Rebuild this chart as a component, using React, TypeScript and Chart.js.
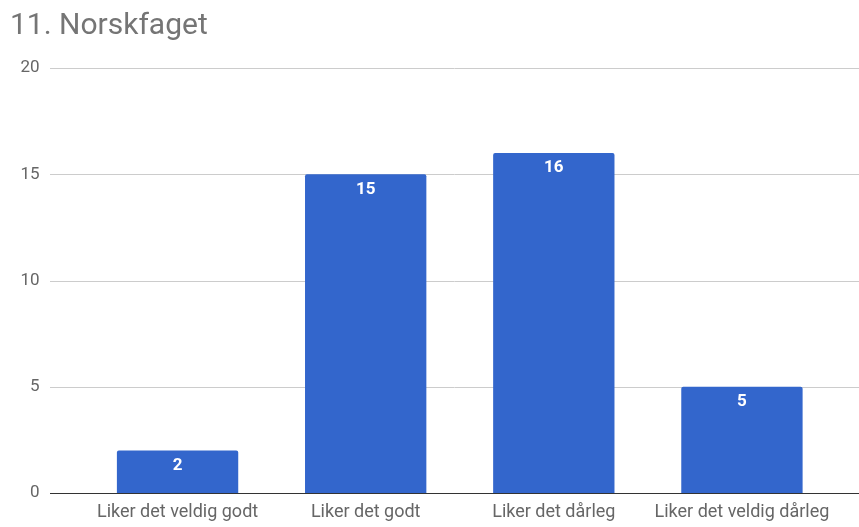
import React, { useEffect, useRef } from "react";
import { Chart, registerables } from "chart.js";

Chart.register(...registerables);

const categories = [
  "Liker det veldig godt",
  "Liker det godt",
  "Liker det dårleg",
  "Liker det veldig dårleg",
];
const values = [2, 15, 16, 5];
const titleText = "11. Norskfaget";
const yMin = 0;
const yMax = 20;
const yStep = 5;

const FONT = "Roboto, 'Noto Sans', Arial, sans-serif";

const gridPlugin = {
  id: "fullGrid",
  beforeDatasetsDraw(chart: any) {
    const { ctx, scales } = chart;
    const y = scales.y;
    ctx.save();
    ctx.lineWidth = 1;
    ctx.strokeStyle = "#cccccc";
    y.ticks.forEach((t: any) => {
      if (t.value === yMin) return;
      const py = Math.round(y.getPixelForValue(t.value)) + 0.5;
      ctx.beginPath();
      ctx.moveTo(50, py);
      ctx.lineTo(chart.width, py);
      ctx.stroke();
    });
    ctx.restore();
  },
  afterDatasetsDraw(chart: any) {
    const { ctx, scales } = chart;
    const y = scales.y;
    ctx.save();
    const py = Math.round(y.getPixelForValue(yMin)) + 0.5;
    ctx.strokeStyle = "#333333";
    ctx.lineWidth = 1.2;
    ctx.beginPath();
    ctx.moveTo(50, py);
    ctx.lineTo(chart.width, py);
    ctx.stroke();
    const meta = chart.getDatasetMeta(0);
    ctx.fillStyle = "#ffffff";
    ctx.font = `bold 17px ${FONT}`;
    ctx.textAlign = "center";
    ctx.textBaseline = "middle";
    meta.data.forEach((bar: any, i: number) => {
      const v = chart.data.datasets[0].data[i];
      ctx.fillText(String(v), bar.x, bar.y + 15);
    });
    ctx.restore();
  },
};

export default function App() {
  const ref = useRef<HTMLCanvasElement | null>(null);
  useEffect(() => {
    const canvas = ref.current;
    if (!canvas) return;
    const chart = new Chart(canvas, {
      type: "bar",
      data: {
        labels: categories,
        datasets: [
          {
            data: values,
            backgroundColor: "#3366cc",
            borderRadius: 2,
            borderSkipped: "bottom",
            barPercentage: 0.645,
            categoryPercentage: 1,
          },
        ],
      },
      options: {
        responsive: false,
        animation: false,
        devicePixelRatio: 1,
        layout: { padding: { left: 10, right: 23, top: 0, bottom: 5 } },
        plugins: {
          legend: { display: false },
          tooltip: { enabled: false },
          title: {
            display: true,
            text: titleText,
            align: "start",
            color: "#757575",
            font: { family: FONT, size: 30, weight: "normal" },
            padding: { top: 8, bottom: 24 },
          },
        },
        scales: {
          x: {
            afterFit(scale: any) {
              scale.height = 29;
            },
            grid: { display: false, drawTicks: false },
            border: { display: false },
            ticks: {
              color: "#666666",
              font: { family: FONT, size: 18 },
              padding: 9,
              maxRotation: 0,
              autoSkip: false,
            },
          },
          y: {
            min: yMin,
            max: yMax,
            afterFit(scale: any) {
              scale.width = 73.5;
              scale.paddingTop = 10;
              scale.paddingBottom = 10;
            },
            grid: { display: false, drawTicks: false },
            border: { display: false },
            ticks: {
              stepSize: yStep,
              color: "#666666",
              font: { family: FONT, size: 17 },
              padding: 44,
            },
          },
        },
      },
      plugins: [gridPlugin],
    });
    return () => chart.destroy();
  }, []);
  return (
    <div style={{ position: "fixed", left: 0, top: 0, width: 859, height: 527, background: "#fff" }}>
      <canvas ref={ref} width={859} height={527} />
    </div>
  );
}
